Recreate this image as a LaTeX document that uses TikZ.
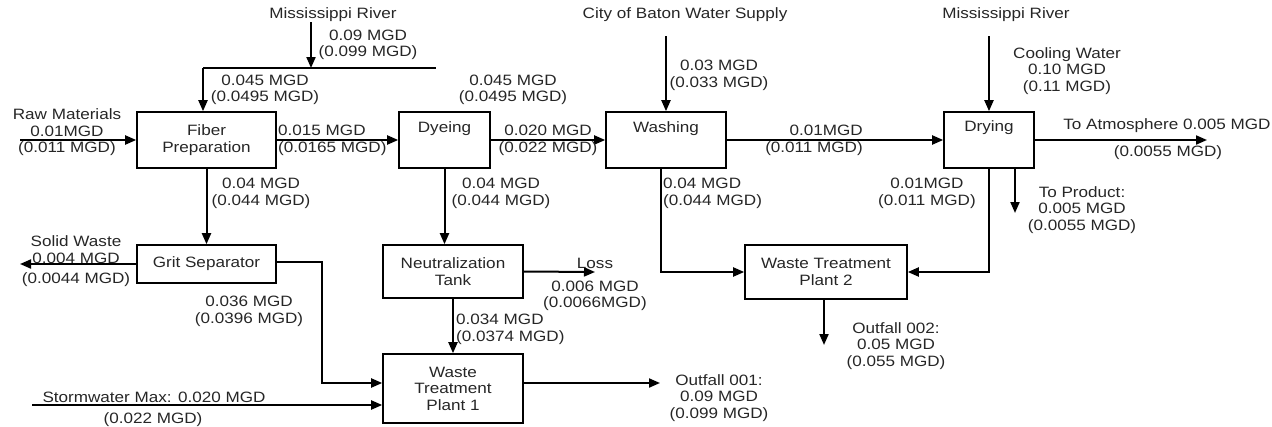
\documentclass[tikz,border=0pt]{standalone}
\usepackage{fontspec}
\setmainfont{Liberation Sans}[FakeStretch=1.14]
\usetikzlibrary{arrows.meta}

\tikzset{
  unit/.style={draw, line width=1.6pt, inner sep=0pt, align=center, text=black!85},
  flow/.style={line width=2pt, -{Triangle[length=11pt,width=9pt]}},
  pipe/.style={line width=2pt},
  qty/.style={align=center, inner sep=0pt, text=black!85},
}

\begin{document}
\begin{tikzpicture}[x=1pt, y=-1pt, font=\fontsize{15}{16.5}\selectfont]
  \useasboundingbox (0,0) rectangle (1272,426);
  % process units
  \node[unit, minimum width=139pt, minimum height=56pt] (fib) at (206.5,140) {Fiber\\Preparation};
  \node[unit, minimum width=91pt, minimum height=56pt, label={[qty,below=10pt]north:Dyeing}] (dye) at (444.5,140) {};
  \node[unit, minimum width=120pt, minimum height=56pt, label={[qty,below=10pt]north:Washing}] (wash) at (666,140) {};
  \node[unit, minimum width=90pt, minimum height=56pt, label={[qty,below=9pt]north:Drying}] (dry) at (989,140) {};
  \node[unit, minimum width=139pt, minimum height=38pt] (grit) at (206.5,264) {Grit Separator};
  \node[unit, minimum width=140pt, minimum height=53pt] (neut) at (453,271.5) {Neutralization\\Tank};
  \node[unit, minimum width=140pt, minimum height=69pt] (wtp1) at (453,388.5) {Waste\\Treatment\\Plant 1};
  \node[unit, minimum width=162pt, minimum height=54pt] (wtp2) at (826,272) {Waste Treatment\\Plant 2};

  % free ends
  \coordinate (rivin) at (311,22);
  \coordinate (hdrL) at (203,68);
  \coordinate (hdrR) at (436,68);
  \coordinate (raw) at (20,140);
  \coordinate (city) at (666,36);
  \coordinate (rivR) at (989,36);
  \coordinate (atm) at (1207,140);
  \coordinate (prod) at (1015,213);
  \coordinate (solid) at (20,264);
  \coordinate (loss) at (595,272);
  \coordinate (storm) at (32,405);
  \coordinate (out1) at (660,383);
  \coordinate (out2) at (824,345);

  % flows
  \draw[flow] (rivin) -- (rivin |- hdrL);
  \draw[pipe] (hdrL) -- (hdrR);
  \draw[flow] (hdrL) -- (hdrL |- fib.north);
  \draw[flow] (raw) -- (fib.west);
  \draw[flow] (fib.east) -- (dye.west);
  \draw[flow] (dye.east) -- (wash.west);
  \draw[flow] (wash.east) -- (dry.west);
  \draw[flow] (city) -- (wash.north);
  \draw[flow] (rivR) -- (dry.north);
  \draw[flow] (dry.east) -- (atm);
  \draw[flow] (prod |- dry.south) -- (prod);
  \draw[flow] (dry.south) |- (wtp2.east);
  \draw[flow] ([xshift=-5pt]wash.south) |- (wtp2.west);
  \draw[flow] (fib.south) -- (grit.north);
  \draw[flow] (dye.south) -- (dye.south |- neut.north);
  \draw[flow] (grit.west) -- (solid);
  \draw[flow] ([yshift=2pt]grit.east) -- ++(45,0) |- ([yshift=5.5pt]wtp1.west);
  \draw[flow] (neut.east) -- (loss);
  \draw[flow] (neut.south) -- (wtp1.north);
  \draw[flow] (storm) -- ([yshift=-16.5pt]wtp1.west);
  \draw[flow] ([yshift=5.5pt]wtp1.east) -- (out1);
  \draw[flow] (wtp2.south -| out2) -- (out2);

  % quantities
  \node[qty] (rivLt) at (333,15) {Mississippi River};
  \node[qty] (q1) at (368,45) {0.09 MGD\\(0.099 MGD)};
  \node[qty] (q2) at (265,90) {0.045 MGD\\(0.0495 MGD)};
  \node[qty] (q3) at (513,90) {0.045 MGD\\(0.0495 MGD)};
  \node[qty] (rawt) at (67,132.5) {Raw Materials\\0.01MGD\\(0.011 MGD)};
  \node[qty, align=left, anchor=west] (q4) at (278,140.5) {0.015 MGD\\(0.0165 MGD)};
  \node[qty] (q5) at (548,140.5) {0.020 MGD\\(0.022 MGD)};
  \node[qty] (cityt) at (685,15) {City of Baton Water Supply};
  \node[qty] (q6) at (719,75.5) {0.03 MGD\\(0.033 MGD)};
  \node[qty, align=right, anchor=east] (q7) at (863,140.5) {0.01MGD\\(0.011 MGD)};
  \node[qty] (rivRt) at (1006,15) {Mississippi River};
  \node[qty] (cool) at (1067,71) {Cooling Water\\0.10 MGD\\(0.11 MGD)};
  \node[qty] (atmA) at (1167,126) {To Atmosphere 0.005 MGD};
  \node[qty] (atmB) at (1168,153) {(0.0055 MGD)};
  \node[qty] (prodt) at (1082,210) {To Product:\\0.005 MGD\\(0.0055 MGD)};
  \node[qty] (q8) at (927,193.5) {0.01MGD\\(0.011 MGD)};
  \node[qty] (q9) at (261,193.5) {0.04 MGD\\(0.044 MGD)};
  \node[qty] (q10) at (501,193.5) {0.04 MGD\\(0.044 MGD)};
  \node[qty, align=left, anchor=west] (q11) at (663,193.5) {0.04 MGD\\(0.044 MGD)};
  \node[qty] (solidA) at (76,249.5) {Solid Waste\\0.004 MGD};
  \node[qty] (solidB) at (76,280) {(0.0044 MGD)};
  \node[qty] (q12) at (249,311.5) {0.036 MGD\\(0.0396 MGD)};
  \node[qty] (lossA) at (595,263) {Loss};
  \node[qty] (lossB) at (595,296) {0.006 MGD\\(0.0066MGD)};
  \node[qty, align=left, anchor=west] (q13) at (456,329.5) {0.034 MGD\\(0.0374 MGD)};
  \node[qty] (stormA) at (154,397) {Stormwater Max: 0.020 MGD};
  \node[qty] (stormB) at (153,420) {(0.022 MGD)};
  \node[qty] (out1t) at (719,398) {Outfall 001:\\0.09 MGD\\(0.099 MGD)};
  \node[qty] (out2t) at (896,346) {Outfall 002:\\0.05 MGD\\(0.055 MGD)};
\end{tikzpicture}
\end{document}
